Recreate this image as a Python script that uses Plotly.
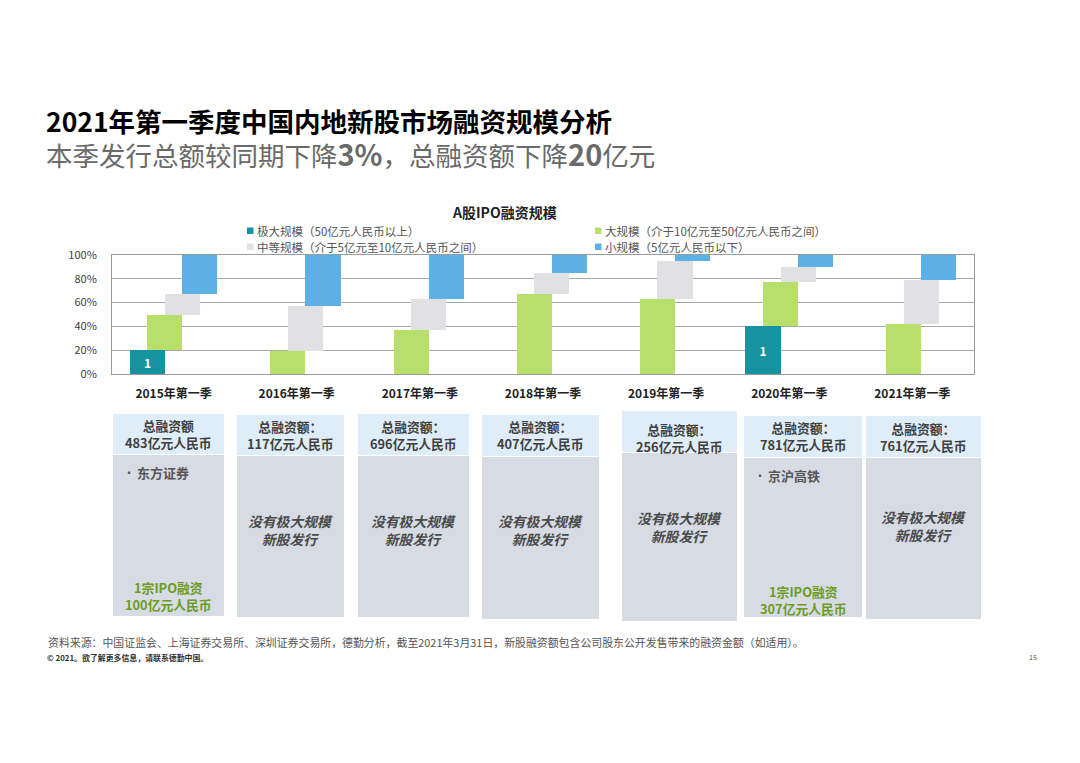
import numpy as np
import plotly.graph_objects as go

# ---------------- data ----------------
categories = ["2015年第一季", "2016年第一季", "2017年第一季", "2018年第一季",
              "2019年第一季", "2020年第一季", "2021年第一季"]
# share of deals by size bucket (%)
mega_pct = [20, 0, 0, 0, 0, 40, 0]        # 极大规模
large_pct = [30, 19, 37, 67, 63, 37, 42]   # 大规模
medium_pct = [17, 38, 26, 18, 32, 13, 37]  # 中等规模
small_pct = [33, 43, 37, 15, 5, 10, 21]    # 小规模
mega_count = [1, None, None, None, None, 1, None]

series_names = ["极大规模（50亿元人民币以上）", "大规模（介于10亿元至50亿元人民币之间）",
                "中等规模（介于5亿元至10亿元人民币之间）", "小规模（5亿元人民币以下）"]
total_raised = [483, 117, 696, 407, 256, 781, 761]          # 亿元人民币
mega_deal_name = ["东方证券", None, None, None, None, "京沪高铁", None]
mega_deal_amount = [100, None, None, None, None, 307, None]  # 亿元人民币
y_ticks = [0, 20, 40, 60, 80, 100]
y_tick_text = [f"{v}%" for v in y_ticks]

# ---------------- styling ----------------
FONT = "Noto Sans CJK SC"
colors = ["#1593a0", "#b8df6c", "#e1e1e3", "#5cb0e4"]
BAR_W = 0.285
offsets = [-0.356, -0.214, -0.071, 0.071]

# page offset (body margin) and plot area in reference pixels
OFF = 8
FIG_W, FIG_H = 1080 - OFF, 763 - OFF
L, R, T, B = 112, 974, 255, 374
W, H = R - L, B - T
def fx(px):
    return (px - L) / W
def fy(py):
    return (B - py) / H

series = [np.array(mega_pct, float), np.array(large_pct, float),
          np.array(medium_pct, float), np.array(small_pct, float)]
cum = np.cumsum(series, axis=0)
bases = [np.zeros(len(categories)), cum[0], cum[1], cum[2]]

fig = go.Figure()
for i, (vals, base) in enumerate(zip(series, bases)):
    y = [v if v > 0 else None for v in vals]
    kw = {}
    if i == 0:
        kw = dict(text=[str(c) if c else "" for c in mega_count], textposition="inside",
                  insidetextanchor="middle", textangle=0,
                  textfont=dict(color="white", size=12, family=FONT, weight="bold"))
    fig.add_trace(go.Bar(x=categories, y=y, base=base, width=BAR_W, offset=offsets[i],
                         marker=dict(color=colors[i], line=dict(width=0)),
                         name=series_names[i], showlegend=False, **kw))

annotations = []
shapes = []

def ann(text, px, py, size, color="#333333", xanchor="center", bold=False, italic=False):
    t = text
    if bold:
        t = "<b>" + t + "</b>"
    if italic:
        t = "<i>" + t + "</i>"
    annotations.append(dict(text=t, x=fx(px), y=fy(py), xref="paper", yref="paper",
                            xanchor=xanchor, yanchor="middle", showarrow=False,
                            align="center" if xanchor == "center" else "left",
                            font=dict(family=FONT, size=size, color=color)))

def rect(x0, y0, x1, y1, color):
    shapes.append(dict(type="rect", xref="paper", yref="paper",
                       x0=fx(x0), x1=fx(x1), y0=fy(y1), y1=fy(y0),
                       fillcolor=color, line=dict(width=0), layer="below"))

# titles (one two-line block)
ann('<b>2021年第一季度中国内地新股市场融资规模分析</b><br>'
    '<span style="color:#6a6a6a">本季发行总额较同期下降<b><span style="font-size:29px">3%</span></b>，'
    '总融资额下降<b><span style="font-size:29px">20</span></b>亿元</span>',
    44, 137, 26.5, "#000000", "left")
ann("A股IPO融资规模", 504, 212, 14, "#222222", bold=True)

# legend (two columns)
leg_pos = [(247, 231), (595, 231), (247, 247), (595, 247)]
for i, (lx, ly) in enumerate(leg_pos):
    rect(lx, ly - 3.5, lx + 6.5, ly + 3, colors[i])
    ann(series_names[i], lx + 8, ly, 11.5, "#555555", "left")

# info boxes
boxes = [(113, 224, 414, 455, 616), (237, 344, 415, 456, 617), (358, 469, 414, 456, 617),
         (482, 599, 415, 457, 619), (622, 737, 411, 453, 621), (744, 862, 416, 458, 617),
         (866, 981, 416, 458, 619)]
head_y = [434, 435, 435, 435, 438, 436, 437]
body_y = [530, 530, 530, 530, 527, 527, 526]
for i, (x0, x1, hy0, by0, by1) in enumerate(boxes):
    rect(x0, hy0, x1, by0 - 1, "#dfedf8")
    rect(x0, by0, x1, by1, "#d6dbe4")
    cx = (x0 + x1) / 2
    sep = "" if i == 0 else "："
    ann(f"总融资额{sep}<br>{total_raised[i]}亿元人民币", cx, head_y[i], 12.8, "#404040", bold=True)
    if mega_deal_name[i]:
        yy = 472 if i == 0 else 475
        ann("•", x0 + 8, yy, 12, "#555555", "left")
        ann(mega_deal_name[i], x0 + 22, yy, 13, "#555555", "left", bold=True)
        gy = 596 if i == 0 else 600
        ann(f"1宗IPO融资<br>{mega_deal_amount[i]}亿元人民币", cx, gy, 12.8, "#6c9c22", bold=True)
    else:
        ann("没有极大规模<br>新股发行", cx, body_y[i], 13.8, "#4a4a4a", bold=True, italic=True)

# footer
ann("资料来源：中国证监会、上海证券交易所、深圳证券交易所，德勤分析，截至2021年3月31日，新股融资额包含公司股东公开发售带来的融资金额（如适用）。",
    46, 642, 10.9, "#555555", "left")
ann("© 2021。欲了解更多信息，请联系德勤中国。", 45, 657, 7.9, "#333333", "left", bold=True)
ann("15", 1033, 657, 7, "#555555", "center")

fig.update_layout(
    width=FIG_W, height=FIG_H, autosize=False,
    margin=dict(l=L - OFF, r=1080 - R, t=T - OFF, b=763 - B, pad=0),
    paper_bgcolor="white", plot_bgcolor="white",
    barmode="overlay", bargap=0,
    font=dict(family=FONT, color="#404040"),
    annotations=annotations, shapes=shapes,
    xaxis=dict(type="category", range=[-0.5, 6.5], showline=True, mirror=True,
               linecolor="#9a9a9a", linewidth=1, showgrid=False, ticks="",
               tickfont=dict(family=FONT, size=12, color="#222222", weight="bold"),
               ticklabelstandoff=9, fixedrange=True),
    yaxis=dict(range=[0, 100], tickmode="array", tickvals=y_ticks, ticktext=y_tick_text,
               showline=True, mirror=True,
               linecolor="#9a9a9a", linewidth=1, gridcolor="#a8a8a8", gridwidth=1,
               zeroline=False, ticks="", tickfont=dict(family=FONT, size=11, color="#404040"),
               ticklabelstandoff=12, fixedrange=True),
    showlegend=False,
)

fig.write_html("out.html")
